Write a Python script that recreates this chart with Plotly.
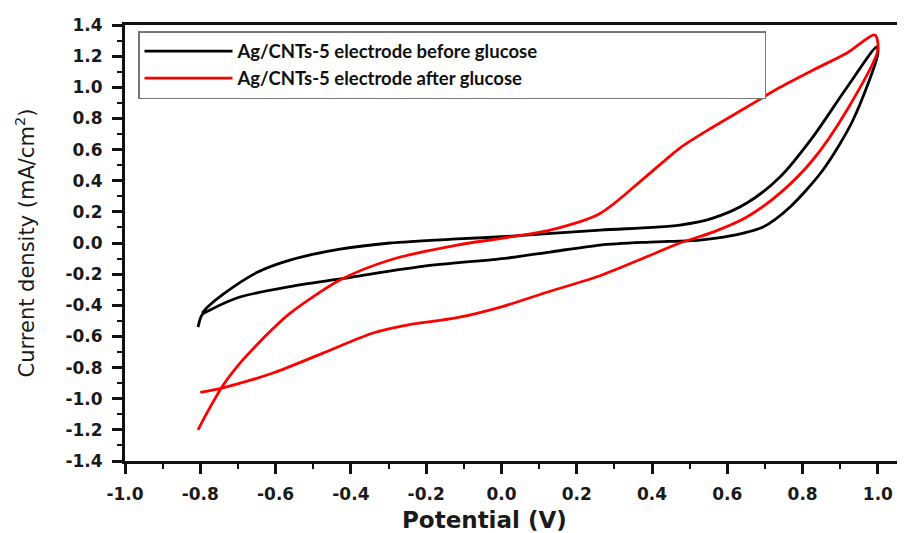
import plotly.graph_objects as go

# Ag/CNTs-5 electrode before glucose (closed CV loop)
before_potential = [-0.806, -0.795, -0.774, -0.695, -0.562, -0.40, -0.21, 0.015, 0.129, 0.262,
                    0.394, 0.527, 0.607, 0.695, 0.766, 0.854, 0.934, 1.0, 0.997,
                    0.918, 0.827, 0.74, 0.652, 0.562, 0.474, 0.40, 0.262, 0.0, -0.118,
                    -0.296, -0.429, -0.562, -0.65, -0.74, -0.78, -0.795]
before_current = [-0.54, -0.46, -0.43, -0.347, -0.28, -0.22, -0.15, -0.097, -0.058, -0.013,
                  0.006, 0.019, 0.045, 0.103, 0.23, 0.469, 0.79, 1.22, 1.26,
                  1.0, 0.68, 0.424, 0.257, 0.16, 0.115, 0.10, 0.083, 0.04, 0.026,
                  0.0, -0.04, -0.11, -0.19, -0.33, -0.41, -0.45]

# Ag/CNTs-5 electrode after glucose
after_potential = [-0.80, -0.74, -0.607, -0.474, -0.341, -0.251, -0.118, 0.0, 0.129, 0.262,
                   0.394, 0.474, 0.562, 0.652, 0.74, 0.827, 0.918, 1.0, 0.992,
                   0.918, 0.827, 0.74, 0.652, 0.562, 0.474, 0.376, 0.262, 0.129,
                   0.0, -0.118, -0.296, -0.429, -0.562, -0.606, -0.650, -0.695, -0.739,
                   -0.783, -0.806]
after_current = [-0.96, -0.93, -0.835, -0.707, -0.578, -0.527, -0.48, -0.41, -0.31, -0.21,
                 -0.08, 0.0, 0.07, 0.167, 0.32, 0.533, 0.854, 1.24, 1.336,
                 1.22, 1.11, 1.0, 0.873, 0.745, 0.61, 0.41, 0.19, 0.083,
                 0.03, -0.013, -0.109, -0.238, -0.452, -0.548, -0.655, -0.773, -0.912,
                 -1.094, -1.2]

series_names = ["Ag/CNTs-5 electrode before glucose", "Ag/CNTs-5 electrode after glucose"]
series_colors = ["#000000", "#ff0000"]

x_tick_values = [-1.0, -0.8, -0.6, -0.4, -0.2, 0.0, 0.2, 0.4, 0.6, 0.8, 1.0]
x_tick_labels = ["-1.0", "-0.8", "-0.6", "-0.4", "-0.2", "0.0", "0.2", "0.4", "0.6", "0.8", "1.0"]
y_tick_values = [-1.4, -1.2, -1.0, -0.8, -0.6, -0.4, -0.2, 0.0, 0.2, 0.4, 0.6, 0.8, 1.0, 1.2, 1.4]
y_tick_labels = ["-1.4", "-1.2", "-1.0", "-0.8", "-0.6", "-0.4", "-0.2", "0.0",
                 "0.2", "0.4", "0.6", "0.8", "1.0", "1.2", "1.4"]

fig = go.Figure()
fig.add_trace(go.Scatter(x=before_potential, y=before_current, mode="lines",
                         name=series_names[0], line=dict(color=series_colors[0], width=2.8,
                                                         shape="spline", smoothing=0.8)))
fig.add_trace(go.Scatter(x=after_potential, y=after_current, mode="lines",
                         name=series_names[1], line=dict(color=series_colors[1], width=2.8,
                                                         shape="spline", smoothing=0.8)))

tickfont = dict(family="DejaVu Sans", size=17, color="#1a1a1a", weight="bold")

# page body has an 8px margin, so the figure is shifted by 8px; compensate here
fig.update_layout(
    width=897, height=525,
    margin=dict(l=117, r=0, t=17, b=72),
    paper_bgcolor="white", plot_bgcolor="white",
    showlegend=True,
    legend=dict(
        x=13 / 780, y=(461 - 31) / 436, xanchor="left", yanchor="top",
        orientation="h", entrywidth=522, entrywidthmode="pixels", itemwidth=88,
        bgcolor="white", bordercolor="#777777", borderwidth=1.5,
        font=dict(family="Lato", size=18.5, color="#111111", weight="bold"),
    ),
    xaxis=dict(
        range=[-1.0, 1.072], showgrid=False, zeroline=False,
        showline=True, linecolor="#111111", linewidth=3, mirror=True,
        ticks="outside", ticklen=10, tickwidth=2.5, tickcolor="#111111",
        tickvals=x_tick_values, ticktext=x_tick_labels, tickfont=tickfont,
        ticklabelstandoff=6,
        minor=dict(dtick=0.1, ticks="outside", ticklen=5, tickwidth=2, tickcolor="#111111", showgrid=False),
    ),
    yaxis=dict(
        range=[-1.4, 1.4], showgrid=False, zeroline=False,
        showline=True, linecolor="#111111", linewidth=3, mirror=False,
        ticks="outside", ticklen=10, tickwidth=2.5, tickcolor="#111111",
        tickvals=y_tick_values, ticktext=y_tick_labels, tickfont=tickfont,
        ticklabelstandoff=6,
        minor=dict(dtick=0.1, ticks="outside", ticklen=5, tickwidth=2, tickcolor="#111111", showgrid=False),
        title=dict(text="Current density (mA/cm<sup>2</sup>)",
                   font=dict(family="DejaVu Sans", size=21, color="#1a1a1a"), standoff=26),
    ),
    annotations=[dict(
        text="Potential (V)", xref="paper", yref="paper",
        x=(484 - 125) / 780, y=(461 - 520) / 436, xanchor="center", yanchor="middle",
        showarrow=False, font=dict(family="DejaVu Sans", size=23, color="#1a1a1a", weight="bold"),
    )],
)

fig.write_html("out.html")
